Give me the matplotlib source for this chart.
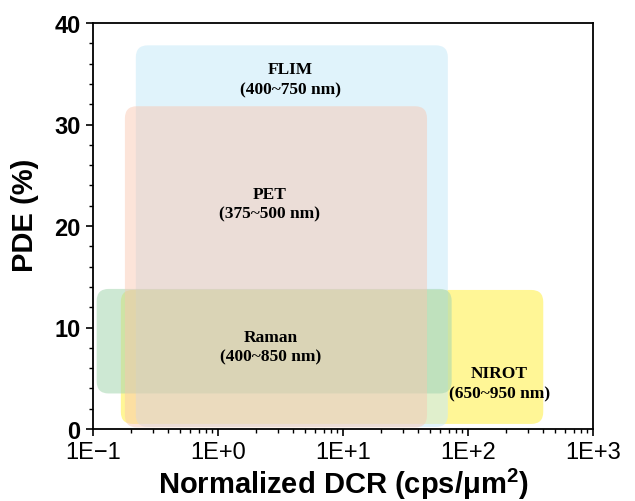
import matplotlib
matplotlib.use("Agg")
import matplotlib.pyplot as plt
from matplotlib.patches import FancyBboxPatch
from matplotlib.ticker import FixedLocator, LogLocator, FuncFormatter, MultipleLocator
import numpy as np

plt.rcParams['mathtext.fontset'] = 'custom'
plt.rcParams['mathtext.bf'] = 'Liberation Sans:bold'
plt.rcParams['mathtext.rm'] = 'Liberation Sans:bold'

# ---- data ----
apps = ["FLIM", "PET", "Raman", "NIROT"]
ranges = ["(400~750 nm)", "(375~500 nm)", "(400~850 nm)", "(650~950 nm)"]
dcr_low = [0.22, 0.18, 0.107, 0.167]
dcr_high = [69, 47, 74, 400]
pde_low = [0.2, 0.15, 3.5, 0.5]
pde_high = [37.8, 31.8, 13.8, 13.7]
label_x = [3.8, 2.6, 2.65, 178]
label_y = [34.5, 22.2, 8.1, 4.5]
colors = ["#c9eaf8", "#f9c6b0", "#a6d6b2", "#fff696"]
alphas = [0.56, 0.47, 0.56, 1.0]
zorders = [2, 4, 3, 1]

x_ticks = [0.1, 1, 10, 100, 1000]
x_ticklabels = ["1E\u22121", "1E+0", "1E+1", "1E+2", "1E+3"]
y_ticks = [0, 10, 20, 30, 40]

fig = plt.figure(figsize=(6.35, 5.02), dpi=100)
ax = fig.add_axes([93/635, 72/502, 500/635, 406/502])
ax.set_xscale('log')
ax.set_xlim(0.1, 1000)
ax.set_ylim(0, 40)

W = 500.0
H = 406.0
r_px = 12.0
for i in range(len(apps)):
    p0 = ax.transAxes.inverted().transform(ax.transData.transform((dcr_low[i], pde_low[i])))
    p1 = ax.transAxes.inverted().transform(ax.transData.transform((dcr_high[i], pde_high[i])))
    patch = FancyBboxPatch((p0[0], p0[1]), p1[0]-p0[0], p1[1]-p0[1],
                           boxstyle=f"round,pad=0,rounding_size={r_px/W}",
                           mutation_aspect=W/H, transform=ax.transAxes,
                           facecolor=colors[i], alpha=alphas[i], edgecolor='none',
                           zorder=zorders[i])
    ax.add_patch(patch)
    ax.text(label_x[i], label_y[i], apps[i] + "\n" + ranges[i], ha='center', va='center',
            fontsize=12.5, fontweight='bold', family='Liberation Serif', linespacing=1.35,
            zorder=10)

ax.xaxis.set_major_locator(FixedLocator(x_ticks))
ax.xaxis.set_major_formatter(FuncFormatter(lambda v, p: x_ticklabels[x_ticks.index(v)] if v in x_ticks else ""))
ax.xaxis.set_minor_locator(LogLocator(base=10, subs=np.arange(2, 10)))
ax.xaxis.set_minor_formatter(FuncFormatter(lambda v, p: ""))
ax.yaxis.set_major_locator(FixedLocator(y_ticks))
ax.yaxis.set_minor_locator(MultipleLocator(2))

ax.tick_params(which='major', direction='out', length=5, width=1.2, labelsize=17, pad=4)
ax.tick_params(which='minor', direction='out', length=3, width=1.0)
ax.tick_params(top=False, right=False, which='both')
for lab in ax.get_yticklabels():
    lab.set_fontweight('bold'); lab.set_family('Liberation Sans')
for lab in ax.get_xticklabels():
    lab.set_family('Liberation Sans')
for s in ax.spines.values():
    s.set_linewidth(1.3)

ax.set_xlabel("Normalized DCR (cps/\u03bcm$^{\\mathbf{2}}$)", fontsize=21, fontweight='bold',
              family='Liberation Sans', labelpad=2)
ax.set_ylabel("PDE (%)", fontsize=21, fontweight='bold', family='Liberation Sans')
ax.yaxis.set_label_coords(-0.108, 0.53)

fig.savefig("out.png", dpi=100)
